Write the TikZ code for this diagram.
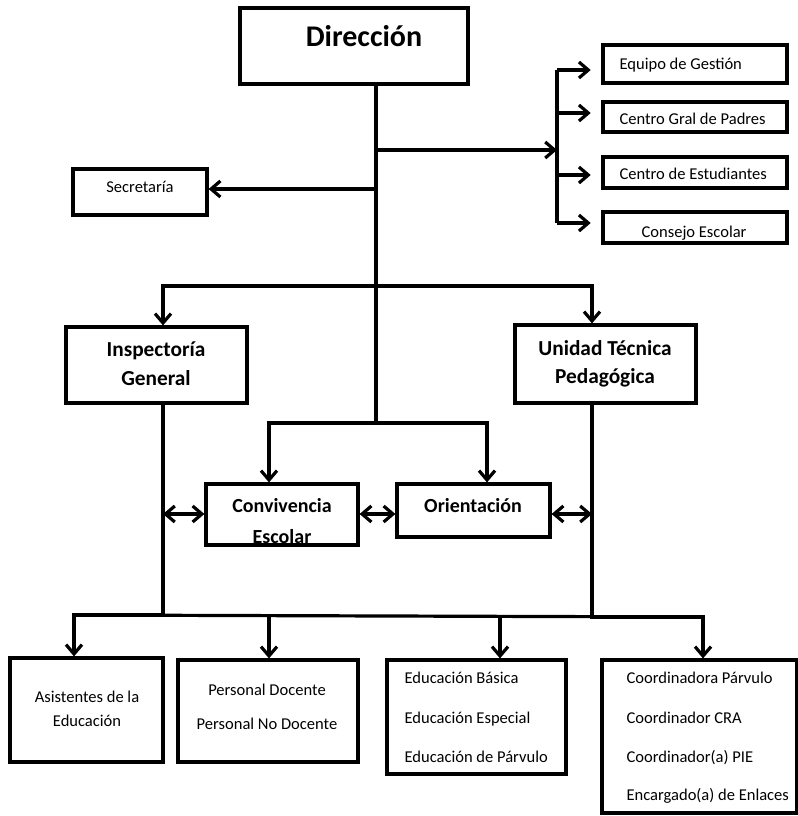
\documentclass[tikz,border=0pt]{standalone}
\usepackage{fontspec}
\setmainfont{Carlito}
\usetikzlibrary{arrows.meta,fit}
\newcommand\orgbox[5]{%
  \coordinate (#1-a) at (#2,#3);
  \coordinate (#1-b) at (#4,#5);
  \node[box, fit=(#1-a)(#1-b)] (#1) {};}
\begin{document}
\begin{tikzpicture}[x=0.75pt,y=-0.75pt, line width=2.4pt,
  box/.style={draw, inner sep=0pt, line width=2.4pt},
  arr/.style={-{Straight Barb[length=7pt,width=12pt]}},
  darr/.style={{Straight Barb[length=7pt,width=12pt]}-{Straight Barb[length=7pt,width=12pt]}},
  small/.style={font=\fontsize{12.4}{15}\selectfont, inner sep=0pt},
  boldt/.style={font=\bfseries\fontsize{16}{20}\selectfont, inner sep=0pt},
  boldm/.style={font=\bfseries\fontsize{15}{19}\selectfont, inner sep=0pt},
  title/.style={font=\bfseries\fontsize{22.5}{27}\selectfont, inner sep=0pt}]
\useasboundingbox (0,0) rectangle (798,816);

% boxes
\orgbox{dir}{240}{8}{468}{84}
\orgbox{eq}{603}{45}{787}{83}
\orgbox{cgp}{603}{102}{787}{132}
\orgbox{ce}{603}{157}{787}{188}
\orgbox{cons}{603}{212}{787}{243}
\orgbox{sec}{73}{169}{207}{215}
\orgbox{ins}{66}{327}{247}{403}
\orgbox{utp}{515}{325}{696}{403}
\orgbox{conv}{206}{484}{358}{545}
\orgbox{ori}{397}{484}{550}{537}
\orgbox{asis}{10}{658}{163}{762}
\orgbox{pers}{178}{660}{358}{762}
\orgbox{edu}{387}{660}{566}{774}
\orgbox{coord}{602}{660}{797}{813}

% texts
\node[title, anchor=base] (tdir) at (364,47) {Dirección};
\node[small, anchor=base west] (teq) at (618,70) {Equipo de Gestión};
\node[small, anchor=base west] (tcgp) at (618,125) {Centro Gral de Padres};
\node[small, anchor=base west] (tce) at (618,180) {Centro de Estudiantes};
\begin{scope}
  \clip (cons-a) rectangle (cons-b);
  \node[small, anchor=base west] (tcons) at (640,238) {Consejo Escolar};
\end{scope}
\node[small, anchor=base] (tsec) at (140,193) {Secretaría};
\node[boldt, anchor=base] (tins1) at (156,356) {Inspectoría};
\node[boldt, anchor=base] (tins2) at (156,385) {General};
\node[boldt, anchor=base] (tutp1) at (605,355) {Unidad Técnica};
\node[boldt, anchor=base] (tutp2) at (605,383) {Pedagógica};
\node[boldm, anchor=base] (tconv1) at (282,512) {Convivencia};
\begin{scope}
  \clip (conv-a) rectangle (conv-b);
  \node[boldm, anchor=base] (tconv2) at (282,543) {Escolar};
\end{scope}
\node[boldm, anchor=base] (tori) at (473,512) {Orientación};
\node[small, anchor=base] (tas1) at (87,702) {Asistentes de la};
\node[small, anchor=base] (tas2) at (87,726) {Educación};
\node[small, anchor=base] (tpe1) at (267,695) {Personal Docente};
\node[small, anchor=base] (tpe2) at (267,729) {Personal No Docente};
\node[small, anchor=base west] (ted1) at (403,683) {Educación Básica};
\node[small, anchor=base west] (ted2) at (403,723) {Educación Especial};
\node[small, anchor=base west] (ted3) at (403,762) {Educación de Párvulo};
\node[small, anchor=base west] (tco1) at (625,683) {Coordinadora Párvulo};
\node[small, anchor=base west] (tco2) at (625,723) {Coordinador CRA};
\node[small, anchor=base west] (tco3) at (625,762) {Coordinador(a) PIE};
\node[small, anchor=base west] (tco4) at (625,800) {Encargado(a) de Enlaces};

% connector points
\coordinate (j1) at (376,150);
\coordinate (bus) at (557,150);
\coordinate (b1) at (557,70);
\coordinate (b2) at (557,113);
\coordinate (b3) at (557,175);
\coordinate (b4) at (557,223);
\coordinate (jsec) at (376,189);
\coordinate (j2) at (376,286);
\coordinate (j3) at (376,423);
\coordinate (ix) at (163,0);
\coordinate (ux) at (592,0);
\coordinate (cx) at (269,0);
\coordinate (ox) at (487,0);
\coordinate (dy) at (0,514);
\coordinate (bl) at (74,615);
\coordinate (br) at (703,617);
\coordinate (p2) at (269,616);
\coordinate (p3) at (500,617);

% connectors
\draw (dir.south -| j1) -- (j3);
\draw[arr] (j1) -- (bus);
\draw (b1) -- (b4);
\draw[arr, shorten >=8pt] (b1) -- (eq.west |- b1);
\draw[arr, shorten >=8pt] (b2) -- (cgp.west |- b2);
\draw[arr, shorten >=8pt] (b3) -- (ce.west |- b3);
\draw[arr, shorten >=8pt] (b4) -- (cons.west |- b4);
\draw[arr] (jsec) -- (sec.east |- jsec);
\draw[arr] (j2) -| (ins.north -| ix);
\draw[arr] (j2) -| (utp.north -| ux);
\draw[arr] (j3) -| (conv.north -| cx);
\draw[arr] (j3) -| (ori.north -| ox);
\draw[darr] (ix |- dy) -- (conv.west |- dy);
\draw[darr] (conv.east |- dy) -- (ori.west |- dy);
\draw[darr] (ori.east |- dy) -- (ux |- dy);
\draw[arr] (ins.south -| ix) -- (ix |- bl) -- (bl) -- (asis.north -| bl);
\draw[arr] (utp.south -| ux) -- (ux |- br) -- (br) -- (coord.north -| br);
\draw (bl) -- (br);
\draw[arr] (p2) -- (pers.north -| p2);
\draw[arr] (p3) -- (edu.north -| p3);
\end{tikzpicture}
\end{document}
